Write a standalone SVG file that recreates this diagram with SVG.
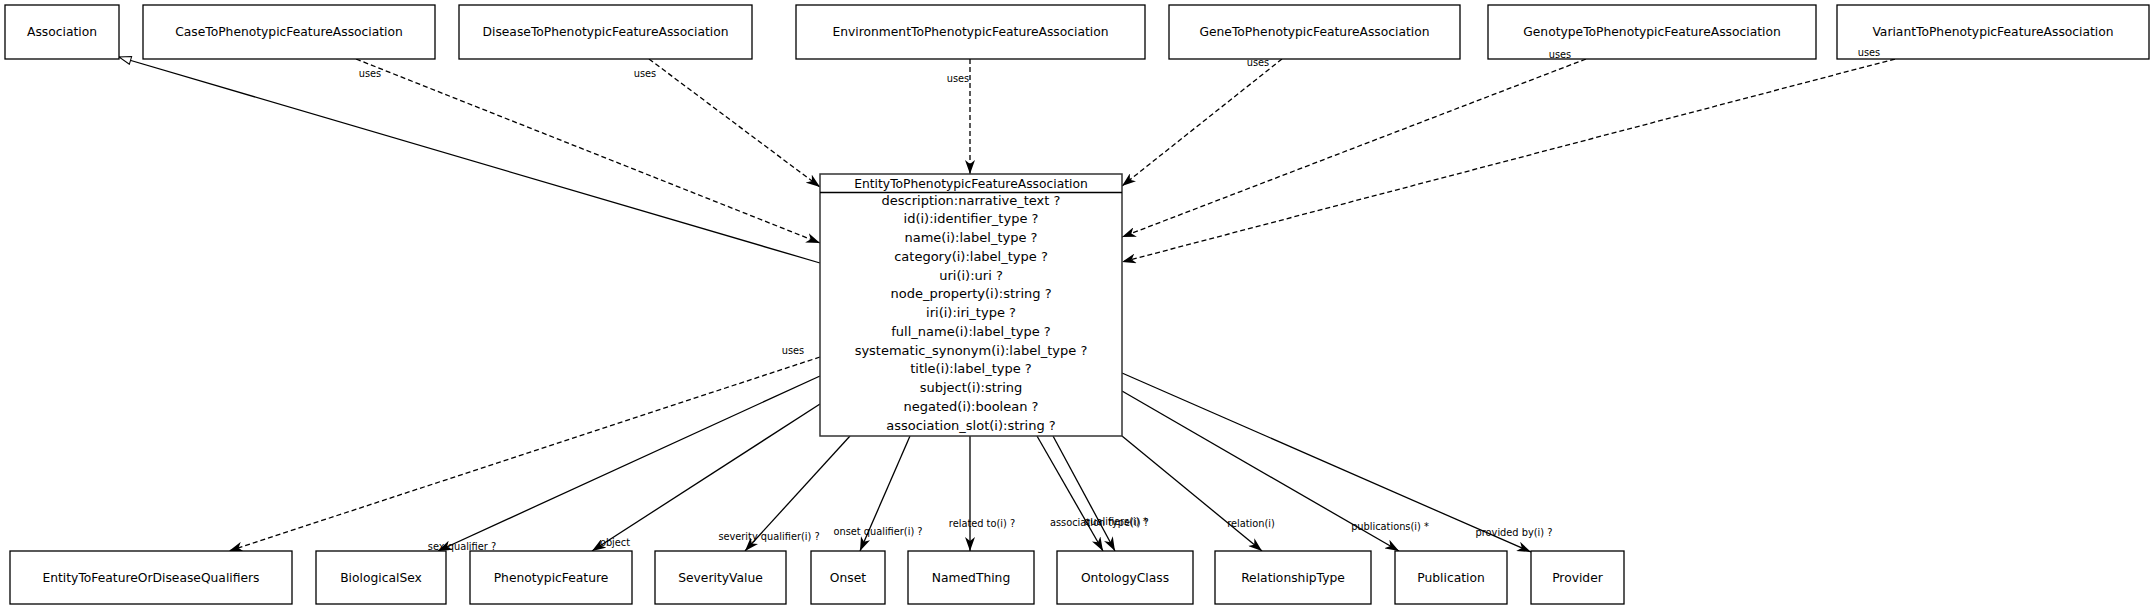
<svg xmlns="http://www.w3.org/2000/svg" width="2153" height="610" viewBox="0 0 2153 610">
<style>
.box{fill:#fff;stroke:#000;stroke-width:1.3}
.main{fill:#fff;stroke:#333;stroke-width:1.5}
.t{font-family:"DejaVu Sans",Verdana,sans-serif;font-size:12.3px;text-anchor:middle;fill:#000}
.a{font-family:"DejaVu Sans",Verdana,sans-serif;font-size:13px;text-anchor:middle;fill:#000}
.l{font-family:"DejaVu Sans",Verdana,sans-serif;font-size:9.8px;fill:#000}
.m{text-anchor:middle}
.e{fill:none;stroke:#000;stroke-width:1.3}
.d{stroke-dasharray:5,3}
</style>
<defs>
<marker id="vee" viewBox="0 0 14 10" refX="14" refY="5" markerWidth="14" markerHeight="10" markerUnits="userSpaceOnUse" orient="auto">
<path d="M0,0 L14,5 L0,10 L4,5 z" fill="#000"/>
</marker>
<marker id="tri" viewBox="0 0 14 10" refX="13" refY="5" markerWidth="14" markerHeight="10" markerUnits="userSpaceOnUse" orient="auto">
<path d="M1,1 L13,5 L1,9 z" fill="#fff" stroke="#000" stroke-width="1"/>
</marker>
</defs>
<rect width="2153" height="610" fill="#fff"/>
<g id="connectors">
<path class="e" d="M820,263 L119,57" marker-end="url(#tri)"/>
<path class="e d" d="M356,59 L820,243" marker-end="url(#vee)"/>
<path class="e d" d="M649,59 L820,187" marker-end="url(#vee)"/>
<path class="e d" d="M970,59 L970,174" marker-end="url(#vee)"/>
<path class="e d" d="M1282,59 L1122,186" marker-end="url(#vee)"/>
<path class="e d" d="M1586,59 L1122,237" marker-end="url(#vee)"/>
<path class="e d" d="M1895,59 L1122,262" marker-end="url(#vee)"/>
<path class="e d" d="M820,357 L229,551" marker-end="url(#vee)"/>
<path class="e" d="M820,376 L438,551" marker-end="url(#vee)"/>
<path class="e" d="M820,404 L592,551" marker-end="url(#vee)"/>
<path class="e" d="M850,436 L745,551" marker-end="url(#vee)"/>
<path class="e" d="M910,436 L860,551" marker-end="url(#vee)"/>
<path class="e" d="M970,436 L970,551" marker-end="url(#vee)"/>
<path class="e" d="M1037,436 L1103,551" marker-end="url(#vee)"/>
<path class="e" d="M1053,436 L1115,551" marker-end="url(#vee)"/>
<path class="e" d="M1122,436 L1262,551" marker-end="url(#vee)"/>
<path class="e" d="M1122,391 L1399,551" marker-end="url(#vee)"/>
<path class="e" d="M1122,373 L1531,552" marker-end="url(#vee)"/>
</g>
<g id="Association"><rect class="box" x="5" y="5" width="114" height="54"/><text class="t" x="62" y="36">Association</text></g>
<g id="CaseToPhenotypicFeatureAssociation"><rect class="box" x="143" y="5" width="292" height="54"/><text class="t" x="289" y="36">CaseToPhenotypicFeatureAssociation</text></g>
<g id="DiseaseToPhenotypicFeatureAssociation"><rect class="box" x="459" y="5" width="293" height="54"/><text class="t" x="605.5" y="36">DiseaseToPhenotypicFeatureAssociation</text></g>
<g id="EnvironmentToPhenotypicFeatureAssociation"><rect class="box" x="796" y="5" width="349" height="54"/><text class="t" x="970.5" y="36">EnvironmentToPhenotypicFeatureAssociation</text></g>
<g id="GeneToPhenotypicFeatureAssociation"><rect class="box" x="1169" y="5" width="291" height="54"/><text class="t" x="1314.5" y="36">GeneToPhenotypicFeatureAssociation</text></g>
<g id="GenotypeToPhenotypicFeatureAssociation"><rect class="box" x="1488" y="5" width="328" height="54"/><text class="t" x="1652" y="36">GenotypeToPhenotypicFeatureAssociation</text></g>
<g id="VariantToPhenotypicFeatureAssociation"><rect class="box" x="1837" y="5" width="312" height="54"/><text class="t" x="1993" y="36">VariantToPhenotypicFeatureAssociation</text></g>
<g id="EntityToPhenotypicFeatureAssociation">
<rect class="main" x="820" y="174" width="302" height="262"/>
<line x1="820" y1="192.5" x2="1122" y2="192.5" stroke="#000" stroke-width="1.3"/>
<text class="t" x="971" y="187.5">EntityToPhenotypicFeatureAssociation</text>
<text class="a" x="971" y="204.5">description:narrative_text ?</text>
<text class="a" x="971" y="223.2">id(i):identifier_type ?</text>
<text class="a" x="971" y="242">name(i):label_type ?</text>
<text class="a" x="971" y="260.7">category(i):label_type ?</text>
<text class="a" x="971" y="279.5">uri(i):uri ?</text>
<text class="a" x="971" y="298.2">node_property(i):string ?</text>
<text class="a" x="971" y="317">iri(i):iri_type ?</text>
<text class="a" x="971" y="335.7">full_name(i):label_type ?</text>
<text class="a" x="971" y="354.5">systematic_synonym(i):label_type ?</text>
<text class="a" x="971" y="373.2">title(i):label_type ?</text>
<text class="a" x="971" y="392">subject(i):string</text>
<text class="a" x="971" y="410.7">negated(i):boolean ?</text>
<text class="a" x="971" y="429.5">association_slot(i):string ?</text>
</g>
<g id="EntityToFeatureOrDiseaseQualifiers"><rect class="box" x="10" y="551" width="282" height="53"/><text class="t" x="151" y="582">EntityToFeatureOrDiseaseQualifiers</text></g>
<g id="BiologicalSex"><rect class="box" x="316" y="551" width="130" height="53"/><text class="t" x="381" y="582">BiologicalSex</text></g>
<g id="PhenotypicFeature"><rect class="box" x="470" y="551" width="162" height="53"/><text class="t" x="551" y="582">PhenotypicFeature</text></g>
<g id="SeverityValue"><rect class="box" x="655" y="551" width="131" height="53"/><text class="t" x="720.5" y="582">SeverityValue</text></g>
<g id="Onset"><rect class="box" x="811" y="551" width="74" height="53"/><text class="t" x="848" y="582">Onset</text></g>
<g id="NamedThing"><rect class="box" x="908" y="551" width="126" height="53"/><text class="t" x="971" y="582">NamedThing</text></g>
<g id="OntologyClass"><rect class="box" x="1057" y="551" width="136" height="53"/><text class="t" x="1125" y="582">OntologyClass</text></g>
<g id="RelationshipType"><rect class="box" x="1215" y="551" width="156" height="53"/><text class="t" x="1293" y="582">RelationshipType</text></g>
<g id="Publication"><rect class="box" x="1395" y="551" width="112" height="53"/><text class="t" x="1451" y="582">Publication</text></g>
<g id="Provider"><rect class="box" x="1531" y="551" width="93" height="53"/><text class="t" x="1577.5" y="582">Provider</text></g>
<g id="connector-labels">
<text class="l m" x="370" y="77">uses</text>
<text class="l m" x="645" y="77">uses</text>
<text class="l m" x="958" y="82">uses</text>
<text class="l m" x="1258" y="66">uses</text>
<text class="l m" x="1560" y="58">uses</text>
<text class="l m" x="1869" y="56">uses</text>
<text class="l m" x="793" y="354">uses</text>
<text class="l m" x="462" y="550">sex qualifier ?</text>
<text class="l m" x="615" y="546">object</text>
<text class="l m" x="769" y="540">severity qualifier(i) ?</text>
<text class="l m" x="878" y="535">onset qualifier(i) ?</text>
<text class="l m" x="982" y="527">related to(i) ?</text>
<text class="l" x="1050" y="526">association type(i) ?</text>
<text class="l" x="1084" y="525">qualifiers(i) *</text>
<text class="l m" x="1251" y="527">relation(i)</text>
<text class="l m" x="1390" y="530">publications(i) *</text>
<text class="l m" x="1514" y="536">provided by(i) ?</text>
</g>
</svg>
